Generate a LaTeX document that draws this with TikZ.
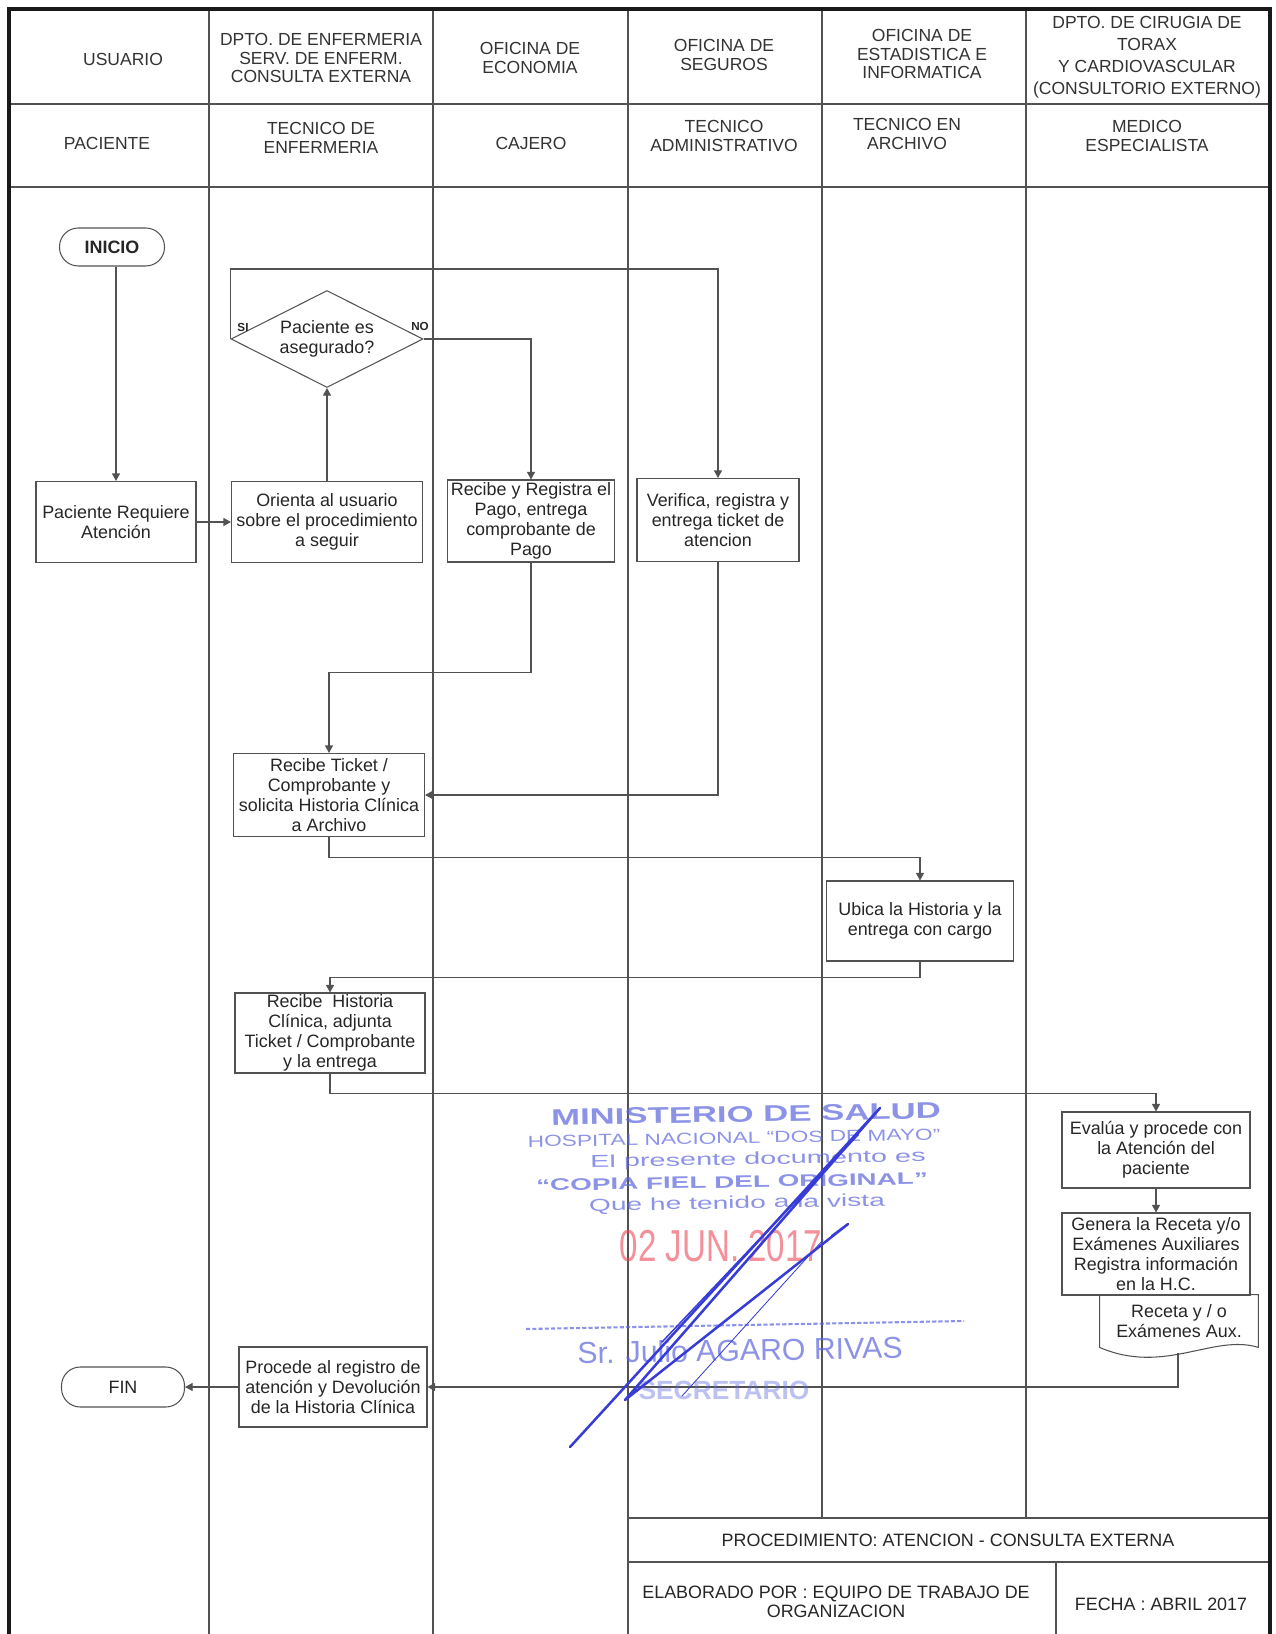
\documentclass[tikz,border=0pt]{standalone}
\usepackage{fontspec}
\setmainfont{Liberation Sans}
\usepackage{graphicx}
\usetikzlibrary{arrows.meta,shapes.geometric,calc}
\definecolor{inkline}{gray}{0.32}
\definecolor{stampblue}{RGB}{92,102,222}
\definecolor{signblue}{RGB}{55,60,215}
\definecolor{stampred}{RGB}{235,70,85}

\begin{document}
\begin{tikzpicture}[x=0.48pt,y=-0.48pt,
  every node/.style={inner sep=0pt,align=center},
  thinline/.style={draw=inkline,line width=0.5pt},
  frameline/.style={draw=black!90,line width=1.5pt},
  head/.style={font=\fontsize{8.4}{9.1}\selectfont,text=black!80},
  body/.style={font=\fontsize{8.6}{9.6}\selectfont,text=black!85},
  titletxt/.style={font=\fontsize{8.6}{9.4}\selectfont,text=black!85},
  lbl/.style={font=\bfseries\fontsize{5.6}{6}\selectfont,text=black!85},
  procbox/.style 2 args={body,thinline,minimum width=#1*0.48pt,minimum height=#2*0.48pt},
  termbox/.style 2 args={body,thinline,rounded corners=9pt,minimum width=#1*0.48pt,minimum height=#2*0.48pt},
  decision/.style 2 args={body,thinline,diamond,aspect=2,minimum width=#1*0.48pt,minimum height=#2*0.48pt},
  flow/.style={draw=inkline,line width=0.5pt,-{Triangle[length=3.6pt,width=3.8pt]}},
  stamptxt/.style={text=stampblue,opacity=0.7},
  sig/.style={draw=signblue,line width=1.2pt,line join=round,line cap=round}
]
\useasboundingbox (0,0) rectangle (1275,1634);
\fill[white] (0,0) rectangle (1275,1634);

% ---- lane grid and frame ----
\draw[thinline] (9,104) -- (1270,104);
\draw[thinline] (9,187) -- (1270,187);
\foreach \x in {209,433,628} \draw[thinline] (\x,9) -- (\x,1634);
\foreach \x in {822,1026} \draw[thinline] (\x,9) -- (\x,1518);
\draw[thinline] (628,1518) -- (1270,1518);
\draw[thinline] (628,1562) -- (1270,1562);
\draw[thinline] (1056,1562) -- (1056,1634);
\draw[frameline] (9,1634) -- (9,9) -- (1270,9) -- (1270,1634);

% ---- lane headers ----
\node[head] (h1) at (123,59) {USUARIO};
\node[head] (h2) at (321,58) {DPTO. DE ENFERMERIA\\SERV. DE ENFERM.\\CONSULTA EXTERNA};
\node[head] (h3) at (530,58) {OFICINA DE\\ECONOMIA};
\node[head] (h4) at (724,55) {OFICINA DE\\SEGUROS};
\node[head] (h5) at (922,54) {OFICINA DE\\ESTADISTICA E\\INFORMATICA};
\node[head,font=\fontsize{8.4}{10.5}\selectfont] (h6) at (1147,57) {DPTO. DE CIRUGIA DE\\TORAX\\Y CARDIOVASCULAR\\(CONSULTORIO EXTERNO)};

\node[head] (r1) at (107,143) {PACIENTE};
\node[head] (r2) at (321,138) {TECNICO DE\\ENFERMERIA};
\node[head] (r3) at (531,143) {CAJERO};
\node[head] (r4) at (724,136) {TECNICO\\ADMINISTRATIVO};
\node[head] (r5) at (907,134) {TECNICO EN\\ARCHIVO};
\node[head] (r6) at (1147,136) {MEDICO\\ESPECIALISTA};

% ---- flow steps ----
\node[termbox={105}{38},font=\bfseries\fontsize{8.6}{9.6}\selectfont] (inicio) at (112,247) {INICIO};
\node[procbox={160}{81}] (pacreq) at (116,522) {Paciente Requiere\\Atención};
\node[procbox={191}{81}] (orienta) at (327,522) {Orienta al usuario\\sobre el procedimiento\\a seguir};
\node[decision={192}{97}] (dec) at (327,339) {Paciente es\\asegurado?};
\node[lbl] (si) at (243,327) {SI};
\node[lbl] (no) at (420,326) {NO};
\node[procbox={167}{82}] (pago) at (531,521) {Recibe y Registra el\\Pago, entrega\\comprobante de\\Pago};
\node[procbox={162}{83}] (verifica) at (718,520) {Verifica, registra y\\entrega ticket de\\atencion};
\node[procbox={191}{83}] (ticket) at (329,795) {Recibe Ticket /\\Comprobante y\\solicita Historia Clínica\\a Archivo};
\node[procbox={187}{80}] (ubica) at (920,921) {Ubica la Historia y la\\entrega con cargo};
\node[procbox={190}{80}] (rhist) at (330,1033) {Recibe\ \ Historia\\Clínica, adjunta\\Ticket / Comprobante\\y la entrega};
\node[procbox={188}{76}] (evalua) at (1156,1150) {Evalúa y procede con\\la Atención del\\paciente};
\node[procbox={188}{82}] (genera) at (1156,1254) {Genera la Receta y/o\\Exámenes Auxiliares\\Registra información\\en la H.C.};
\node[body,minimum width=158*0.48pt,minimum height=52*0.48pt] (receta) at (1179,1321) {Receta y / o\\Exámenes Aux.};
\draw[thinline] (receta.north west) -- (receta.north east) -- (receta.south east)
  .. controls +(-45,-14) and +(65,28) .. (receta.south west) -- cycle;
\coordinate (recetaout) at (1178,1353);
\node[procbox={188}{80}] (procede) at (333,1387) {Procede al registro de\\atención y Devolución\\de la Historia Clínica};
\node[termbox={123}{40}] (fin) at (123,1387) {FIN};

% ---- connectors ----
\draw[flow] (inicio.south -| pacreq.north) -- (pacreq.north);
\draw[flow] (pacreq.east) -- (orienta.west);
\draw[flow] (orienta.north) -- (dec.south);
\draw[flow] (dec.west) -- ++(0,-70) -| (verifica.north);
\draw[flow] (dec.east) -| (pago.north);
\draw[flow] (pago.south) -- ++(0,110) -| (ticket.north);
\draw[flow] (verifica.south) |- (ticket.east);
\draw[flow] (ticket.south) -- ++(0,20) -| (ubica.north);
\draw[flow] (ubica.south) -- ++(0,16) -| (rhist.north);
\draw[flow] (rhist.south) -- ++(0,20) -| (evalua.north);
\draw[flow] (evalua.south) -- (genera.north);
\draw[flow] (recetaout) |- (procede.east);
\draw[flow] (procede.west) -- (fin.east);

% ---- title block ----
\node[titletxt] (proc) at (948,1540) {PROCEDIMIENTO: ATENCION - CONSULTA EXTERNA};
\node[titletxt] (elab) at (836,1602) {ELABORADO POR : EQUIPO DE TRABAJO DE\\ORGANIZACION};
\node[titletxt] (fecha) at (1161,1604) {FECHA : ABRIL 2017};

% ---- certification stamp and signature ----
\node[stamptxt,rotate=1] (st1) at (746,1114) {\resizebox{187pt}{7.6pt}{\bfseries MINISTERIO DE SALUD}};
\node[stamptxt,rotate=1] (st2) at (734,1138) {\resizebox{198pt}{5.4pt}{HOSPITAL NACIONAL “DOS DE MAYO”}};
\node[stamptxt,rotate=1] (st3) at (758,1160) {\resizebox{161pt}{6pt}{El presente documento es}};
\node[stamptxt,rotate=1] (st4) at (732,1182) {\resizebox{188pt}{5.6pt}{\bfseries “COPIA FIEL DEL ORIGINAL”}};
\node[stamptxt,rotate=1] (st5) at (737,1204) {\resizebox{142pt}{6pt}{Que he tenido a la vista}};
\node[text=stampred,opacity=0.6] (fecha2) at (721,1246) {\resizebox{97pt}{15pt}{02 JUN. 2017}};
\draw[draw=stampblue,opacity=0.7,line width=1pt,dash pattern=on 2pt off 1pt] (526,1329) -- (964,1321);
\node[stamptxt,rotate=1] (sr) at (740,1350) {\resizebox{156pt}{!}{Sr. Julio AGARO RIVAS}};
\node[stamptxt,opacity=0.4] (secr) at (724,1390) {\resizebox{82pt}{!}{\bfseries SECRETARIO}};
\draw[sig] (570,1447) -- (880,1108) -- (625,1400) -- (848,1224) -- (832,1236);
\draw[sig,line width=0.7pt] (858,1135) -- (662,1342);
\draw[sig,line width=0.4pt] (823,1240) -- (682,1396);
\end{tikzpicture}
\end{document}
